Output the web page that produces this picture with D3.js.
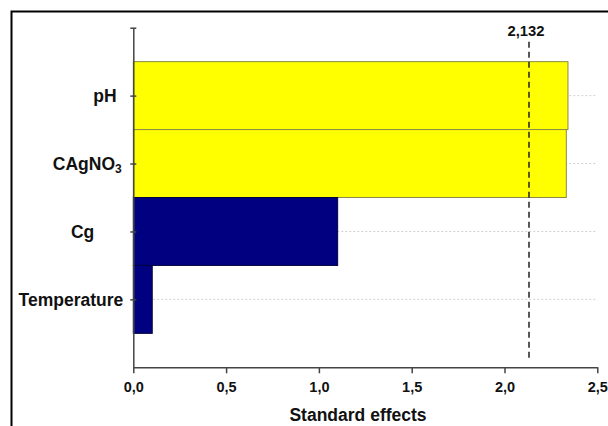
<!DOCTYPE html>
<html>
<head>
<meta charset="utf-8">
<script src="https://cdn.jsdelivr.net/npm/d3@7"></script>
<style>
  html, body { margin: 0; background: #fff; overflow: hidden; }
  svg { display: block; }
  text { font-family: "Liberation Sans", Arial, sans-serif; font-weight: bold; fill: #111; }
</style>
</head>
<body>
<div id="chart"></div>
<script>
// factors, top to bottom
var factors = ["pH", "CAgNO3", "Cg", "Temperature"];
var effects = [2.342, 2.333, 1.101, 0.102];
var barColors = ["#ffff00", "#ffff00", "#000080", "#000080"];
var xTicks = [0, 0.5, 1, 1.5, 2, 2.5];
var criticalValue = 2.132;
var criticalLabel = "2,132";
var labelShift = [-6.6, -1.6, -29, 0]; // original labels are not aligned

var width = 608, height = 426;

var svg = d3.select("#chart").append("svg")
    .attr("width", width)
    .attr("height", height);

// outer frame: only left and top edges are in view
svg.append("path")
    .attr("d", "M11.5," + height + "V11.5H" + width)
    .style("fill", "none")
    .style("stroke", "#000")
    .style("stroke-width", 2);

var x = d3.scaleLinear().domain([0, 2.5]).range([133.3, 597.3]);
// slots: 0 at bottom, 5 at top, categories at 4..1
var y = d3.scaleLinear().domain([0, 5]).range([367.3, 27.7]);
var pos = function(i) { return factors.length - i; };

// dotted grid
svg.append("g").selectAll("line")
    .data(factors)
    .enter().append("line")
    .attr("x1", x(0)).attr("x2", x(2.5))
    .attr("y1", function(d, i) { return y(pos(i)); })
    .attr("y2", function(d, i) { return y(pos(i)); })
    .style("stroke", "#d0d0d0")
    .style("stroke-dasharray", "2,2");

// bars
svg.append("g").selectAll("rect")
    .data(effects)
    .enter().append("rect")
    .attr("x", x(0))
    .attr("y", function(d, i) { return y(pos(i) + 0.5); })
    .attr("width", function(d) { return x(d) - x(0); })
    .attr("height", function(d, i) { return y(pos(i) - 0.5) - y(pos(i) + 0.5); })
    .style("fill", function(d, i) { return barColors[i]; })
    .style("stroke", function(d, i) { return i < 2 ? "#8a8a4a" : "#000040"; })
    .style("stroke-width", 1);

// x axis
var xAxis = svg.append("g")
    .attr("transform", "translate(0," + y(0) + ")")
    .call(d3.axisBottom(x).tickValues(xTicks)
        .tickFormat(function(d) { return d3.format(".1f")(d).replace(".", ","); })
        .tickSize(6).tickSizeOuter(0));
xAxis.select(".domain").style("stroke", "#444").style("stroke-width", 1.5);
xAxis.selectAll(".tick line").style("stroke", "#444").style("stroke-width", 1.5);
xAxis.selectAll("text")
    .attr("dy", "1.05em")
    .style("font-size", "14.5px")
    .style("font-family", "Liberation Sans, Arial, sans-serif")
    .style("font-weight", "bold")
    .style("fill", "#111");

// y axis
var yAxis = svg.append("g")
    .attr("transform", "translate(" + x(0) + ",0)")
    .call(d3.axisLeft(y).tickValues([1, 2, 3, 4, 5])
        .tickFormat("").tickSize(3).tickSizeOuter(0));
yAxis.select(".domain").style("stroke", "#444").style("stroke-width", 1.5);
yAxis.selectAll(".tick line").attr("x1", 3).style("stroke", "#444").style("stroke-width", 1.5);

// category labels
var labels = svg.append("g").selectAll("text")
    .data(factors)
    .enter().append("text")
    .attr("x", function(d, i) { return 123.3 + labelShift[i]; })
    .attr("y", function(d, i) { return y(pos(i)); })
    .attr("dy", "0.35em")
    .attr("text-anchor", "end")
    .style("font-size", "17.5px");

labels.each(function(d) {
    var t = d3.select(this);
    if (d === "CAgNO3") {
        t.append("tspan").text("CAgNO");
        t.append("tspan").text("3")
            .attr("dy", "0.3em")
            .style("font-size", "12px");
    } else {
        t.text(d);
    }
});

// critical value line
svg.append("line")
    .attr("x1", x(criticalValue)).attr("x2", x(criticalValue))
    .attr("y1", 41.7).attr("y2", y(0) - 6)
    .style("stroke", "#222")
    .style("stroke-width", 1.5)
    .style("stroke-dasharray", "6,4");

svg.append("text")
    .attr("x", x(criticalValue) - 3)
    .attr("y", 35.5)
    .attr("text-anchor", "middle")
    .style("font-size", "14.8px")
    .text(criticalLabel);

// axis title
svg.append("text")
    .attr("x", 358)
    .attr("y", 421)
    .attr("text-anchor", "middle")
    .style("font-size", "17.5px")
    .text("Standard effects");
</script>
</body>
</html>
